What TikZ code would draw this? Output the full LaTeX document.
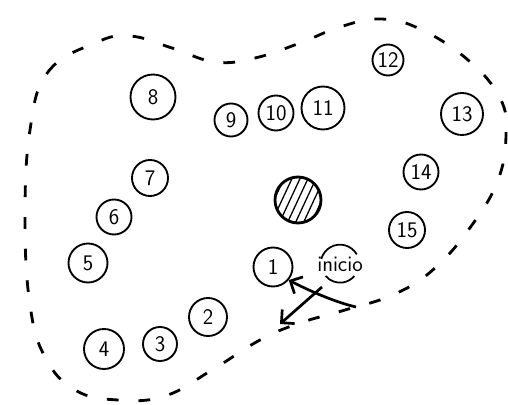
\documentclass[tikz,border=0pt]{standalone}
\usepackage{fontspec}
\usetikzlibrary{arrows.meta,calc}
\tikzset{
  spot/.style={circle, draw, line width=1.6pt, inner sep=0pt,
    font=\sffamily\fontsize{19}{19}\selectfont},
  rim/.style={line width=2.4pt, dash pattern=on 10pt off 17pt},
  pointer/.style={line width=2.3pt, -{Straight Barb[length=8pt,width=16pt]}},
  hatch/.style={line width=1.1pt}
}

\begin{document}
\begin{tikzpicture}[x=0.03cm, y=-0.03cm]
  \useasboundingbox (0,0) rectangle (508,405);
  % outline of the area
  \draw[rim] plot[smooth cycle, tension=0.7] coordinates {
    (30,130) (48,72) (95,43) (130,36) (172,48) (215,62) (255,58)
    (300,43) (340,27) (380,19) (420,29) (468,60) (500,98) (506,135)
    (498,180) (472,225) (435,268) (395,294) (345,310) (300,323)
    (260,340) (212,370) (165,396) (118,400) (75,390) (45,357)
    (30,305) (25,220)};
  % numbered spots
  \node[spot, minimum size=1.17cm] (n1) at (273,267) {1};
  \node[spot, minimum size=1.14cm] (n2) at (208,317) {2};
  \node[spot, minimum size=1.02cm] (n3) at (160,344) {3};
  \node[spot, minimum size=1.20cm] (n4) at (104,349) {4};
  \node[spot, minimum size=1.17cm] (n5) at (88,263) {5};
  \node[spot, minimum size=1.05cm] (n6) at (114,217) {6};
  \node[spot, minimum size=1.08cm] (n7) at (150,178) {7};
  \node[spot, minimum size=1.35cm] (n8) at (153,97) {8};
  \node[spot, minimum size=0.99cm] (n9) at (231,120) {9};
  \node[spot, minimum size=1.05cm] (n10) at (276,113) {10};
  \node[spot, minimum size=1.29cm] (n11) at (323,108) {11};
  \node[spot, minimum size=0.93cm] (n12) at (388,60) {12};
  \node[spot, minimum size=1.26cm] (n13) at (462,114) {13};
  \node[spot, minimum size=1.05cm] (n14) at (421,172) {14};
  \node[spot, minimum size=1.08cm] (n15) at (407,230) {15};
  % hatched obstacle
  \node[circle, draw, line width=2.4pt, minimum size=1.38cm] (hole) at (298,200) {};
  \begin{scope}
    \clip (hole.center) circle[radius=0.69cm];
    \foreach \d in {-24,-16,...,24}
      \draw[hatch] ($(hole.center)+(\d,0)+(-115:1.2cm)$) -- ++(65:2.4cm);
  \end{scope}
  % start label
  \node[font=\sffamily\fontsize{19}{19}\selectfont] (start) at (340,264) {inicio};
  \draw[line width=1.5pt] ($(start.center)+(30:0.58cm)$)
    arc[start angle=30, end angle=165, radius=0.58cm];
  \draw[line width=1.5pt] ($(start.center)+(-140:0.56cm)$)
    arc[start angle=-140, end angle=-40, radius=0.56cm];
  % arrows
  \coordinate (tail) at (356,307);
  \coordinate (fork) at (322,287);
  \coordinate (goal) at (280,324);
  \draw[pointer] (tail) .. controls (335,302) and (312,292) .. (n1.-40);
  \draw[pointer] (fork) -- (goal);
\end{tikzpicture}
\end{document}
